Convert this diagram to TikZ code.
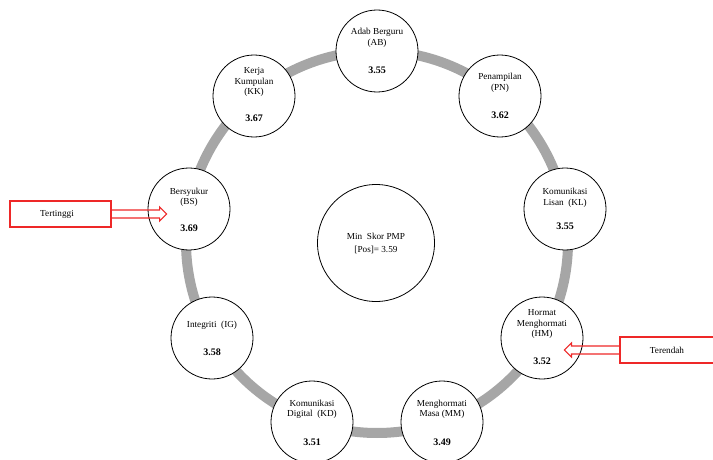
\documentclass[tikz,border=0pt]{standalone}
\usepackage{fontspec}
\setmainfont{Liberation Serif}
\definecolor{ringgray}{RGB}{166,166,166}
\definecolor{boxred}{RGB}{238,40,40}
\begin{document}
\begin{tikzpicture}[x=1pt,y=-1pt,
  item/.style={circle,draw=black,line width=0.8pt,fill=white,minimum size=82pt,inner sep=0pt},
  lbl/.style={align=center,font=\fontsize{9.2}{10.5}\selectfont,inner sep=0pt},
  num/.style={font=\fontsize{10}{12}\selectfont\bfseries,inner sep=0pt},
  redbox/.style={draw=boxred,line width=1.1pt,minimum height=26pt,inner sep=0pt},
  redarrow/.style={draw=boxred,line width=1.1pt,line join=miter}]
\useasboundingbox (0,0) rectangle (713,460);
\coordinate (O) at (377,242);
\draw[line width=10pt,ringgray] (O) circle (191);
% ring items
\node[item] (ab) at (377,51) {};
\node[item] (pn) at (500,96) {};
\node[item] (kl) at (565,209) {};
\node[item] (hm) at (542,338) {};
\node[item] (mm) at (442,422) {};
\node[item] (kd) at (312,422) {};
\node[item] (ig) at (212,338) {};
\node[item] (bs) at (189,209) {};
\node[item] (kk) at (254,96) {};
% labels
\node[lbl] (abt) at ([yshift=13pt]ab.center) {Adab Berguru\\(AB)};
\node[num] (abn) at ([yshift=-19pt]ab.center) {3.55};
\node[lbl] (pnt) at ([yshift=13pt]pn.center) {Penampilan\\(PN)};
\node[num] (pnn) at ([yshift=-19pt]pn.center) {3.62};
\node[lbl] (klt) at ([yshift=11pt]kl.center) {Komunikasi\\Lisan\ \ (KL)};
\node[num] (kln) at ([yshift=-17pt]kl.center) {3.55};
\node[lbl] (hmt) at ([yshift=14pt]hm.center) {Hormat\\Menghormati\\(HM)};
\node[num] (hmn) at ([yshift=-23pt]hm.center) {3.52};
\node[lbl] (mmt) at ([yshift=12.5pt]mm.center) {Menghormati\\Masa (MM)};
\node[num] (mmn) at ([yshift=-20pt]mm.center) {3.49};
\node[lbl] (kdt) at ([yshift=12.5pt]kd.center) {Komunikasi\\Digital\ \ (KD)};
\node[num] (kdn) at ([yshift=-20pt]kd.center) {3.51};
\node[lbl] (igt) at ([yshift=13pt]ig.center) {Integriti\ \ (IG)};
\node[num] (ign) at ([yshift=-14pt]ig.center) {3.58};
\node[lbl] (bst) at ([yshift=11.5pt]bs.center) {Bersyukur\\(BS)};
\node[num] (bsn) at ([yshift=-19pt]bs.center) {3.69};
\node[lbl] (kkt) at ([yshift=14pt]kk.center) {Kerja\\Kumpulan\\(KK)};
\node[num] (kkn) at ([yshift=-22pt]kk.center) {3.67};
% centre
\node[circle,draw=black,line width=0.8pt,fill=white,minimum size=117pt,inner sep=0pt] (c) at (376,243) {};
\node[lbl,font=\fontsize{9.2}{13}\selectfont] (ct) at (c.center) {Min\ \ Skor PMP\\{}[Pos]= 3.59};
% red callouts
\node[redbox,minimum width=101pt] (tt) at (60.5,214) {};
\node[lbl] (ttt) at (57,214) {Tertinggi};
\draw[redarrow] ([yshift=4pt]tt.east) -- ++(48,0) -- ++(0,-3) -- ++(7,7) coordinate (ttip)
  -- ++(-7,7) -- ++(0,-3) -- ([yshift=-4pt]tt.east);
\node[redbox,minimum width=110pt] (te) at (675,350) {};
\node[lbl] (tet) at (667,350) {Terendah};
\draw[redarrow] ([yshift=4pt]te.west) -- ++(-48,0) -- ++(0,-3) -- ++(-7,7) coordinate (tetip)
  -- ++(7,7) -- ++(0,-3) -- ([yshift=-4pt]te.west);
\end{tikzpicture}
\end{document}
